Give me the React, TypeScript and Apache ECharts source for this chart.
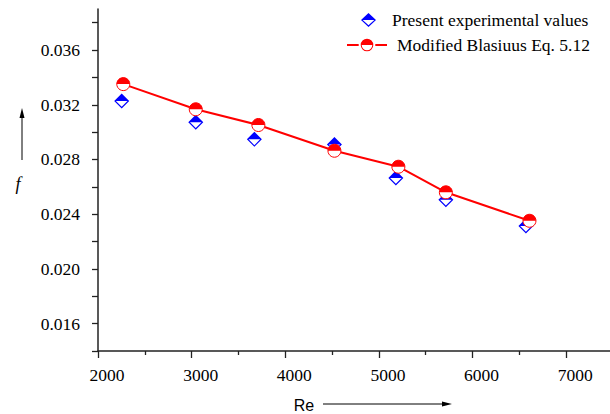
import React, { useEffect, useRef } from 'react';
import * as echarts from 'echarts';

// ---- data ----
const reExp = [2253, 3044, 3670, 4525, 5181, 5715, 6570];
const fExp = [0.03227, 0.03072, 0.02947, 0.0291, 0.02664, 0.02505, 0.02314];
const reModel = [2270, 3044, 3713, 4525, 5208, 5715, 6608];
const fModel = [0.03351, 0.03167, 0.03052, 0.02864, 0.02747, 0.0256, 0.02352];

const xTickValues = [2000, 3000, 4000, 5000, 6000, 7000];
const xMinorTickValues = [2500, 3500, 4500, 5500, 6500];
const yTickValues = [0.014, 0.016, 0.018, 0.02, 0.022, 0.024, 0.026, 0.028, 0.03, 0.032, 0.034, 0.036, 0.038];
const yLabelValues = [0.016, 0.02, 0.024, 0.028, 0.032, 0.036];

const expName = 'Present experimental values';
const modelName = 'Modified Blasiuus Eq. 5.12';
const xName = 'Re';
const yName = 'f';

// ---- symbols ----
const DIAMOND_HALF =
  'path://M-1,0 L0,-1 L1,0 Z M-1,0 L1,0 L0,1 Z M-0.77,0 L0,0.77 L0.77,0 Z';
const DISK_TOP_HALF =
  'path://M-1,0 C-1,-0.552 -0.552,-1 0,-1 C0.552,-1 1,-0.552 1,0 Z M0,1 L0.001,1';
const BLUE_ICON =
  'path://M11,7 L18.5,0 L26,7 Z M11,7 L26,7 L18.5,14 Z M12.7,7 L18.5,12.3 L24.3,7 Z M0,7 L0.01,7 M36.99,7 L37,7';
const RED_ICON =
  'path://M0,5.5 L11.7,5.5 L11.7,7.5 L0,7.5 Z M28.3,5.5 L40,5.5 L40,7.5 L28.3,7.5 Z ' +
  'M13.7,6.5 A6.3,6.3 0 0 1 26.3,6.5 Z M13.7,6.5 A6.3,6.3 0 0 0 26.3,6.5 Z ' +
  'M25.3,6.5 A5.3,5.3 0 0 1 14.7,6.5 Z M20,0 L20.01,0 M20,13 L20.01,13 M44.99,6.5 L45,6.5';

const SERIF = '"Liberation Serif", "Times New Roman", serif';
const SANS = '"Liberation Sans", Arial, sans-serif';
const AXIS_COLOR = '#222';

const xLabelFmt = (v: number) => (xTickValues.some((t) => Math.abs(t - v) < 1e-6) ? `{s|${v}}` : '');
const yLabelFmt = (v: number) =>
  yLabelValues.some((t) => Math.abs(t - v) < 1e-9) ? `{s|${v.toFixed(3)}}` : '';

export default function App() {
  const ref = useRef<HTMLDivElement>(null);

  useEffect(() => {
    if (!ref.current) return;
    const chart = echarts.init(ref.current, undefined, { renderer: 'svg' });
    const expData = reExp.map((x, i) => [x, fExp[i]]);
    const modelData = reModel.map((x, i) => [x, fModel[i]]);

    const labelStyle = {
      fontFamily: SERIF,
      fontSize: 17.5,
      color: '#000',
    };

    chart.setOption({
      animation: false,
      backgroundColor: '#fff',
      textStyle: { fontFamily: SERIF, color: '#000' },
      grid: { left: 98, top: 9, width: 515, height: 342, outerBoundsMode: 'none', containLabel: false },
      xAxis: [
        {
          type: 'value',
          min: 2000,
          max: 7500,
          interval: 1000,
          splitLine: { show: false },
          axisLine: { show: true, onZero: false, lineStyle: { color: AXIS_COLOR, width: 1.5 } },
          axisTick: { show: true, length: 7, customValues: xTickValues, lineStyle: { color: AXIS_COLOR, width: 1.3 } },
          axisLabel: {
            ...labelStyle,
            formatter: xLabelFmt,
            rich: { s: { ...labelStyle, padding: [0, 0, 0, 18] } },
            margin: 15,
            showMaxLabel: false,
          },
        },
        {
          type: 'value',
          min: 2000,
          max: 7500,
          interval: 1000,
          position: 'bottom',
          splitLine: { show: false },
          axisLine: { show: false },
          axisTick: { show: true, length: 4, customValues: xMinorTickValues, lineStyle: { color: AXIS_COLOR, width: 1.3 } },
          axisLabel: { show: false },
        },
      ],
      yAxis: {
        type: 'value',
        min: 0.014,
        max: 0.039,
        interval: 0.002,
        splitLine: { show: false },
        axisLine: { show: true, onZero: false, lineStyle: { color: AXIS_COLOR, width: 1.5 } },
        axisTick: { show: true, length: 6, customValues: yTickValues, lineStyle: { color: AXIS_COLOR, width: 1.3 } },
        axisLabel: {
          ...labelStyle,
          formatter: yLabelFmt,
          rich: { s: { ...labelStyle } },
          margin: 18,
          showMaxLabel: false,
        },
      },
      legend: [
        {
          data: [{ name: expName, icon: BLUE_ICON, itemStyle: { color: '#0000ff', borderWidth: 0 } }],
          left: 350,
          top: 11,
          orient: 'vertical',
          itemWidth: 37,
          itemHeight: 14,
          padding: 0,
          selectedMode: false,
          textStyle: { fontFamily: SERIF, fontSize: 17.5, color: '#000' },
        },
        {
          data: [{ name: modelName, icon: RED_ICON, itemStyle: { color: '#ff0000', borderWidth: 0 } }],
          left: 347,
          top: 36,
          orient: 'vertical',
          itemWidth: 45,
          itemHeight: 13,
          padding: 0,
          selectedMode: false,
          textStyle: { fontFamily: SERIF, fontSize: 17.5, color: '#000' },
        },
      ],
      series: [
        {
          type: 'scatter',
          name: expName,
          data: expData,
          symbol: DIAMOND_HALF,
          symbolSize: 15,
          z: 2,
          itemStyle: { color: '#0000ff', opacity: 1 },
        },
        {
          type: 'line',
          name: 'model-line',
          data: modelData,
          symbol: 'circle',
          symbolSize: 13,
          showSymbol: true,
          z: 3,
          itemStyle: { color: '#ffffff', borderColor: '#ff0000', borderWidth: 1 },
          lineStyle: { color: '#ff0000', width: 2 },
        },
        {
          type: 'scatter',
          name: modelName,
          data: modelData,
          symbol: DISK_TOP_HALF,
          symbolSize: 13,
          z: 5,
          itemStyle: { color: '#ff0000', opacity: 1 },
        },
      ],
      graphic: [
        {
          type: 'text',
          x: 18,
          y: 184,
          style: { text: yName, font: `italic 18px ${SERIF}`, fill: '#000', align: 'center', verticalAlign: 'middle' },
        },
        { type: 'line', shape: { x1: 22, y1: 160, x2: 22, y2: 115 }, style: { stroke: '#000', lineWidth: 1 } },
        { type: 'polygon', shape: { points: [[19.5, 118], [22, 108], [24.5, 118]] }, style: { fill: '#000' } },
        {
          type: 'text',
          x: 304,
          y: 405,
          style: { text: xName, font: `16px ${SANS}`, fill: '#000', align: 'center', verticalAlign: 'middle' },
        },
        { type: 'line', shape: { x1: 323, y1: 404, x2: 444, y2: 404 }, style: { stroke: '#000', lineWidth: 1 } },
        { type: 'polygon', shape: { points: [[442, 401.5], [452, 404], [442, 406.5]] }, style: { fill: '#000' } },
      ],
    });

    return () => chart.dispose();
  }, []);

  return <div ref={ref} style={{ position: 'fixed', left: 0, top: 0, width: 610, height: 414 }} />;
}
